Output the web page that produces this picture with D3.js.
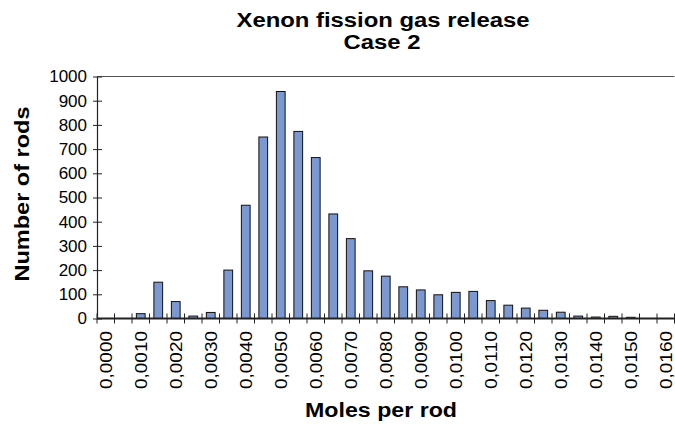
<!DOCTYPE html>
<html>
<head>
<meta charset="utf-8">
<script src="https://cdn.jsdelivr.net/npm/d3@7/dist/d3.min.js"></script>
<style>
  html, body { margin: 0; padding: 0; background: #fff; }
  svg { display: block; font-family: Arial, "Liberation Sans", sans-serif; }
</style>
</head>
<body>
<svg id="chart" width="675" height="432"></svg>
<script>
// ---- data ----
const categories = ["0,0000","0,0005","0,0010","0,0015","0,0020","0,0025","0,0030","0,0035",
  "0,0040","0,0045","0,0050","0,0055","0,0060","0,0065","0,0070","0,0075","0,0080","0,0085",
  "0,0090","0,0095","0,0100","0,0105","0,0110","0,0115","0,0120","0,0125","0,0130","0,0135",
  "0,0140","0,0145","0,0150","0,0155","0,0160"];
const counts = [0, 0, 20, 150, 70, 10, 25, 200, 468, 750, 938, 773, 665, 432, 330, 197, 175,
  131, 118, 98, 108, 112, 74, 55, 43, 34, 26, 10, 6, 9, 5, 0, 0];
const xTickLabels = ["0,0000","0,0010","0,0020","0,0030","0,0040","0,0050","0,0060","0,0070",
  "0,0080","0,0090","0,0100","0,0110","0,0120","0,0130","0,0140","0,0150","0,0160"];
const yTicks = [0, 100, 200, 300, 400, 500, 600, 700, 800, 900, 1000];

(function () {
// ---- layout ----
const svg = d3.select("#chart");
const plotLeft = 97, plotRight = 674.5, plotTop = 76.5, plotBottom = 318.5;

const x = d3.scaleBand().domain(categories).range([plotLeft, plotRight])
  .paddingInner(0.5).paddingOuter(0.25);
const y = d3.scaleLinear().domain([0, 1000]).range([plotBottom, plotTop]);

// top border line
svg.append("line")
  .attr("x1", plotLeft).attr("x2", plotRight)
  .attr("y1", y(1000)).attr("y2", y(1000))
  .attr("stroke", "#555").attr("stroke-width", 1);

// bars
svg.append("g").selectAll("rect").data(categories).join("rect")
  .attr("x", d => x(d))
  .attr("width", x.bandwidth())
  .attr("y", (d, i) => y(counts[i]))
  .attr("height", (d, i) => y(0) - y(counts[i]))
  .attr("fill", "#7b98d1")
  .attr("stroke", "#111")
  .attr("stroke-width", 1);

// y axis
const yAxis = d3.axisLeft(y).tickValues(yTicks).tickSize(0).tickPadding(10)
  .tickFormat(d3.format("d"));
const gy = svg.append("g").attr("transform", `translate(${plotLeft},0)`).call(yAxis);
gy.select(".domain").attr("stroke", "#222").attr("stroke-width", 1.2);
gy.selectAll(".tick text").attr("font-size", 17).attr("fill", "#000")
  .attr("font-family", "Arial, 'Liberation Sans', sans-serif");
gy.selectAll(".tick").append("line")
  .attr("x1", -4).attr("x2", 5).attr("stroke", "#222").attr("stroke-width", 1);

// x axis line
svg.append("line").attr("x1", plotLeft).attr("x2", plotRight)
  .attr("y1", plotBottom).attr("y2", plotBottom)
  .attr("stroke", "#222").attr("stroke-width", 2);

// x ticks at category boundaries
const step = x.step();
const boundaries = d3.range(categories.length + 1).map(i => plotLeft + i * step);
svg.append("g").selectAll("line").data(boundaries).join("line")
  .attr("x1", d => d).attr("x2", d => d)
  .attr("y1", plotBottom - 5).attr("y2", plotBottom + 5)
  .attr("stroke", "#222").attr("stroke-width", 1);

// x tick labels (rotated)
svg.append("g").selectAll("text").data(xTickLabels).join("text")
  .attr("transform", d => `translate(${x(d) + x.bandwidth() / 2 + 6},331) rotate(-90)`)
  .attr("text-anchor", "end")
  .attr("font-size", 17)
  .attr("fill", "#000")
  .attr("textLength", 58)
  .attr("lengthAdjust", "spacingAndGlyphs")
  .text(d => d);

// titles
svg.append("text").attr("x", 383).attr("y", 27).attr("text-anchor", "middle")
  .attr("font-size", 19.5).attr("font-weight", "bold")
  .attr("textLength", 293).attr("lengthAdjust", "spacingAndGlyphs")
  .text("Xenon fission gas release");
svg.append("text").attr("x", 382).attr("y", 48.5).attr("text-anchor", "middle")
  .attr("font-size", 19.5).attr("font-weight", "bold")
  .attr("textLength", 77).attr("lengthAdjust", "spacingAndGlyphs")
  .text("Case 2");

svg.append("text").attr("x", 381).attr("y", 417).attr("text-anchor", "middle")
  .attr("font-size", 20).attr("font-weight", "bold")
  .attr("textLength", 152).attr("lengthAdjust", "spacingAndGlyphs")
  .text("Moles per rod");

svg.append("text")
  .attr("transform", "translate(29,194) rotate(-90)")
  .attr("text-anchor", "middle")
  .attr("font-size", 20).attr("font-weight", "bold")
  .attr("textLength", 175).attr("lengthAdjust", "spacingAndGlyphs")
  .text("Number of rods");
})();
</script>
</body>
</html>
